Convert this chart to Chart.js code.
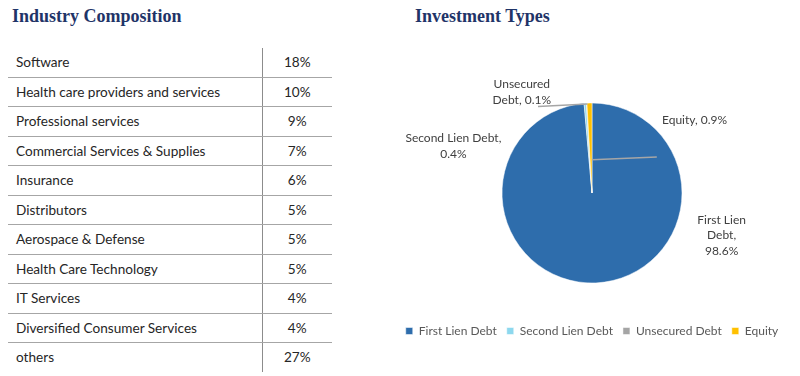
<!DOCTYPE html>
<html>
<head>
<meta charset="utf-8">
<script src="https://cdn.jsdelivr.net/npm/chart.js@4.4.1/dist/chart.umd.min.js"></script>
<style>
  html, body { margin: 0; padding: 0; background: #fff; }
  #page { position: relative; width: 800px; height: 376px; overflow: hidden; }
  .title {
    position: absolute; top: 6px;
    font: bold 18px "Liberation Serif", "Times New Roman", serif;
    color: #1f3468;
  }
  #industryTable {
    position: absolute; left: 8px; top: 48px; width: 324px;
    border-collapse: collapse;
    font: 13.6px Lato, "Open Sans", sans-serif; color: #262626;
  }
  #industryTable td { height: 28.5px; padding: 0; border-bottom: 1px solid #a6a6a6; }
  #industryTable tr:last-child td { border-bottom: none; }
  #industryTable td.name { width: 254px; padding-left: 8px; box-sizing: border-box; }
  #industryTable td.pct { text-align: center; border-left: 1px solid #8c8c8c; }
  #pieWrap { position: absolute; left: 384px; top: 40px; width: 416px; height: 336px; }
</style>
</head>
<body>
<div id="page">
  <div class="title" style="left:12px">Industry Composition</div>
  <div class="title" style="left:415px">Investment Types</div>
  <table id="industryTable"><tbody></tbody></table>
  <div id="pieWrap"><canvas id="pie"></canvas></div>
</div>
<script>
/* ---- Data ---- */
const industries = [
  'Software',
  'Health care providers and services',
  'Professional services',
  'Commercial Services & Supplies',
  'Insurance',
  'Distributors',
  'Aerospace & Defense',
  'Health Care Technology',
  'IT Services',
  'Diversified Consumer Services',
  'others',
];
const industryShare = [18, 10, 9, 7, 6, 5, 5, 5, 4, 4, 27];

const investmentTypes = ['First Lien Debt', 'Second Lien Debt', 'Unsecured Debt', 'Equity'];
const investmentShare = [98.6, 0.4, 0.1, 0.9];

/* ---- Styles / placement ---- */
const sliceColors = ['#2e6dac', '#8dd8ee', '#a5a5a5', '#ffc000'];
// label centre relative to pie centre, in radius units, and wrap width in px
const labelLayout = [
  { dx: 1.44, dy: 0.47, wrap: 56 },
  { dx: -1.54, dy: -0.52, wrap: 105 },
  { dx: -0.78, dy: -1.12, wrap: 62 },
  { dx: 1.14, dy: -0.81, wrap: 200 },
];
// leader lines (radius units, relative to centre)
const leaderLines = [
  { from: [0.72, -0.40], to: [0.0, -0.37] },
  { from: [-0.60, -0.96], to: [-0.05, -0.99] },
];

/* ---- Table ---- */
const tbody = document.querySelector('#industryTable tbody');
industries.forEach((name, i) => {
  const tr = document.createElement('tr');
  tr.innerHTML = `<td class="name"></td><td class="pct"></td>`;
  tr.children[0].textContent = name;
  tr.children[1].textContent = industryShare[i] + '%';
  tbody.appendChild(tr);
});

/* ---- Pie labels plugin ---- */
function wrapText(ctx, text, maxW) {
  const words = text.split(' ');
  const lines = [];
  let cur = '';
  words.forEach(w => {
    const test = cur ? cur + ' ' + w : w;
    if (cur && ctx.measureText(test).width > maxW) {
      lines.push(cur);
      cur = w;
    } else {
      cur = test;
    }
  });
  if (cur) lines.push(cur);
  return lines;
}

const pieLabels = {
  id: 'pieLabels',
  afterDatasetsDraw(chart) {
    const arc = chart.getDatasetMeta(0).data[0];
    if (!arc) return;
    const { x: cx, y: cy, outerRadius: r } = arc;
    const ctx = chart.ctx;
    ctx.save();
    ctx.strokeStyle = '#a6a6a6';
    ctx.lineWidth = 1.5;
    leaderLines.forEach(l => {
      ctx.beginPath();
      ctx.moveTo(cx + l.from[0] * r, cy + l.from[1] * r);
      ctx.lineTo(cx + l.to[0] * r, cy + l.to[1] * r);
      ctx.stroke();
    });
    ctx.font = '12px Lato, "Open Sans", sans-serif';
    ctx.fillStyle = '#404040';
    ctx.textAlign = 'center';
    ctx.textBaseline = 'middle';
    const lh = 15.5;
    investmentTypes.forEach((name, i) => {
      const pos = labelLayout[i];
      const lines = wrapText(ctx, `${name}, ${investmentShare[i].toFixed(1)}%`, pos.wrap);
      const x = cx + pos.dx * r;
      const y0 = cy + pos.dy * r - (lines.length - 1) * lh / 2;
      lines.forEach((ln, k) => ctx.fillText(ln, x, y0 + k * lh));
    });
    ctx.restore();
  },
};

new Chart(document.getElementById('pie'), {
  type: 'pie',
  data: {
    labels: investmentTypes,
    datasets: [{
      data: investmentShare,
      backgroundColor: sliceColors,
      borderColor: '#ffffff',
      borderWidth: 0.5,
      radius: 90,
    }],
  },
  options: {
    responsive: true,
    maintainAspectRatio: false,
    animation: false,
    layout: { padding: { top: 31, right: 0, left: 0, bottom: 29 } },
    plugins: {
      legend: {
        position: 'bottom',
        labels: {
          boxWidth: 7,
          boxHeight: 7,
          padding: 10,
          color: '#595959',
          font: { family: 'Lato, "Open Sans", sans-serif', size: 12 },
        },
      },
      tooltip: { enabled: false },
    },
  },
  plugins: [pieLabels],
});
</script>
</body>
</html>
